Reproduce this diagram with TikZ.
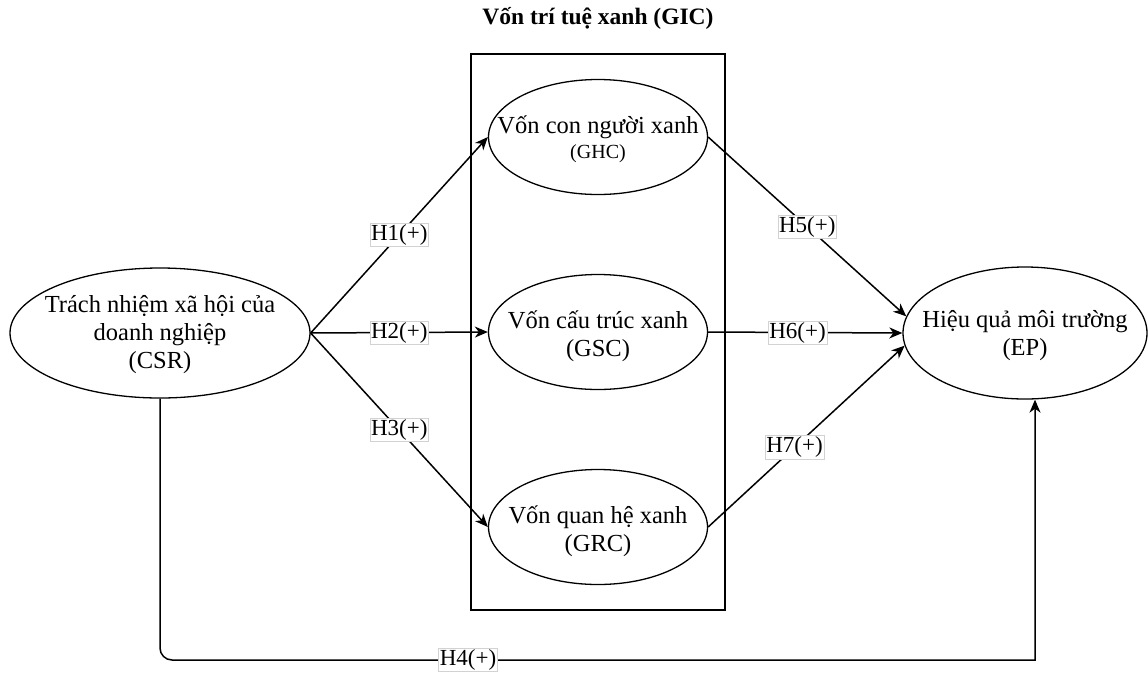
\documentclass[tikz,border=0pt]{standalone}
\usepackage{fontspec}
\setmainfont{Liberation Serif}
\usetikzlibrary{shapes.geometric,arrows.meta,calc}

\tikzset{
  construct/.style={draw, ellipse, line width=1.3pt, fill=white, inner sep=0pt},
  ctext/.style={align=center, inner sep=0pt, font=\fontsize{24.5}{28}\selectfont},
  hyp/.style={line width=1.5pt, -{Stealth[length=13pt,width=11pt,inset=4pt]}},
  hlabel/.style={fill=white, draw=gray!35, line width=0.6pt, inner sep=1.2pt,
    font=\fontsize{23}{26}\selectfont},
  groupbox/.style={draw, line width=1.5pt, minimum width=254pt, minimum height=556pt, inner sep=0pt},
}

\begin{document}
\begin{tikzpicture}[x=1pt, y=-1pt]
\useasboundingbox (0,0) rectangle (1148,673);

% green intellectual capital group
\node[groupbox] (gic) at (598,332) {};
\node[font=\fontsize{23.5}{28}\selectfont\bfseries] (gictitle) at (598,18) {Vốn trí tuệ xanh (GIC)};

% constructs (outline, then text)
\node[construct, minimum width=300pt, minimum height=130pt] (csr) at (160,333) {};
\node[ctext] (csrtext) at (160,335) {Trách nhiệm xã hội của\\doanh nghiệp\\(CSR)};

\node[construct, minimum width=219pt, minimum height=115pt] (ghc) at (598,137) {};
\node[ctext] (ghctext) at (598,139) {Vốn con người xanh\\[-3pt]{\fontsize{20}{24}\selectfont(GHC)}};

\node[construct, minimum width=219pt, minimum height=115pt] (gsc) at (598,332) {};
\node[ctext] (gsctext) at (598,336) {Vốn cấu trúc xanh\\(GSC)};

\node[construct, minimum width=219pt, minimum height=115pt] (grc) at (598,527) {};
\node[ctext] (grctext) at (598,531) {Vốn quan hệ xanh\\(GRC)};

\node[construct, minimum width=244pt, minimum height=132pt] (ep) at (1025,333) {};
\node[ctext] (eptext) at (1025,336) {Hiệu quả môi trường\\(EP)};

% hypotheses
\draw[hyp] (csr.east) -- node[hlabel] (h1) {H1(+)} (ghc.west);
\draw[hyp] (csr.east) -- node[hlabel] (h2) {H2(+)} (gsc.west);
\draw[hyp] (csr.east) -- node[hlabel] (h3) {H3(+)} (grc.west);
\draw[hyp] (ghc.east) -- node[hlabel, pos=0.5] (h5) {H5(+)} (ep.172);
\draw[hyp] (gsc.east) -- node[hlabel, pos=0.46] (h6) {H6(+)} (ep.west);
\draw[hyp] (grc.east) -- node[hlabel, pos=0.44] (h7) {H7(+)} (ep.186);

% direct effect: rounded at the lower left, square at the lower right
\coordinate (h4corner) at (1035,660);
\draw[hyp] (csr.south) [rounded corners=12pt] -- (csr.south |- h4corner)
  -- ([xshift=-40pt]h4corner) [sharp corners] -- (h4corner) -- (ep.south -| h4corner);
\node[hlabel] (h4) at (468,660) {H4(+)};
\end{tikzpicture}
\end{document}
